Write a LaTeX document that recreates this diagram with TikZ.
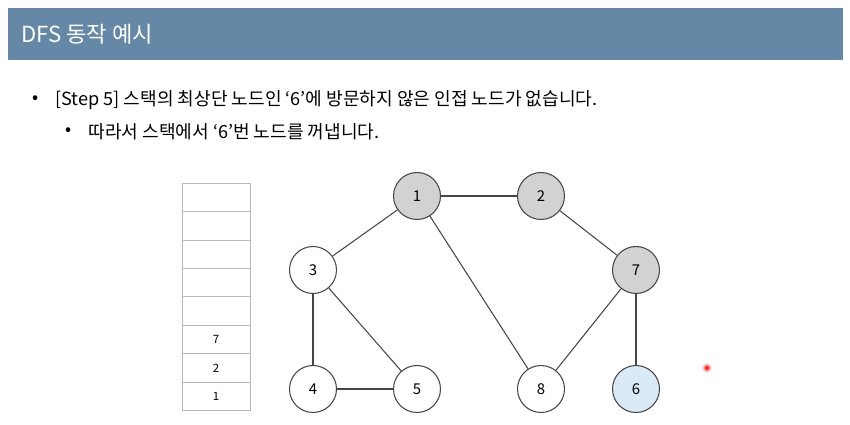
\documentclass[tikz,border=0pt]{standalone}
\usepackage{fontspec}
\setmainfont{Noto Sans CJK KR}
\usetikzlibrary{positioning}
\definecolor{headblue}{RGB}{101,136,166}
\definecolor{visitgray}{RGB}{210,210,210}
\definecolor{curblue}{RGB}{218,234,247}
\definecolor{edgegray}{RGB}{70,70,70}
\definecolor{cellgray}{RGB}{185,185,185}

\begin{document}
\begin{tikzpicture}[x=0.02cm, y=-0.02cm,
    vertex/.style={circle,draw=edgegray,line width=0.6pt,minimum size=0.94cm,inner sep=0pt,font=\fontsize{8.5}{9}\selectfont},
    visited/.style={vertex,fill=visitgray},
    current/.style={vertex,fill=curblue},
    cell/.style={draw=cellgray,line width=0.5pt,minimum width=1.36cm,minimum height=0.568cm,inner sep=0pt,outer sep=0pt,font=\fontsize{6.5}{7}\selectfont},
    link/.style={draw=edgegray,line width=0.6pt},
    bodytext/.style={anchor=west,inner sep=0pt,font=\fontsize{10.3}{12}\selectfont}]
      \useasboundingbox (0,0) rectangle (850,425);
      % header
      \fill[headblue] (8,8) rectangle (843,60);
      \node[anchor=west,inner sep=0pt,text=white,font=\fontsize{12.6}{14}\selectfont] (title) at (21,34) {DFS 동작 예시};
      % text lines
      \node[bodytext] (dot1) at (32,100) {•};
      \node[bodytext] (line1) at (55,100) {[Step 5] 스택의 최상단 노드인 ‘6’에 방문하지 않은 인접 노드가 없습니다.};
      \node[bodytext] (dot2) at (65,132) {•};
      \node[bodytext] (line2) at (88,132) {따라서 스택에서 ‘6’번 노드를 꺼냅니다.};
      % stack
      \node[cell] (s8) at (216,197.5) {};
      \node[cell,below=0pt of s8] (s7) {};
      \node[cell,below=0pt of s7] (s6) {};
      \node[cell,below=0pt of s6] (s5) {};
      \node[cell,below=0pt of s5] (s4) {};
      \node[cell,below=0pt of s4] (s3) {7};
      \node[cell,below=0pt of s3] (s2) {2};
      \node[cell,below=0pt of s2] (s1) {1};
      % graph
      \node[visited] (n1) at (417,196) {1};
      \node[visited] (n2) at (541,196) {2};
      \node[vertex] (n3) at (313,270) {3};
      \node[visited] (n7) at (636,270) {7};
      \node[vertex] (n4) at (313,389) {4};
      \node[vertex] (n5) at (417,389) {5};
      \node[vertex] (n8) at (541,389) {8};
      \node[current] (n6) at (636,389) {6};
      \draw[link] (n1) -- (n2);
      \draw[link] (n1) -- (n3);
      \draw[link] (n1) -- (n8);
      \draw[link] (n2) -- (n7);
      \draw[link] (n3) -- (n4);
      \draw[link] (n3) -- (n5);
      \draw[link] (n4) -- (n5);
      \draw[link] (n7) -- (n8);
      \draw[link] (n7) -- (n6);
      % pointer
      \fill[red!25] (707,368) circle (4.5);
      \fill[red!80] (707,368) circle (2.5);
    \end{tikzpicture}
\end{document}
